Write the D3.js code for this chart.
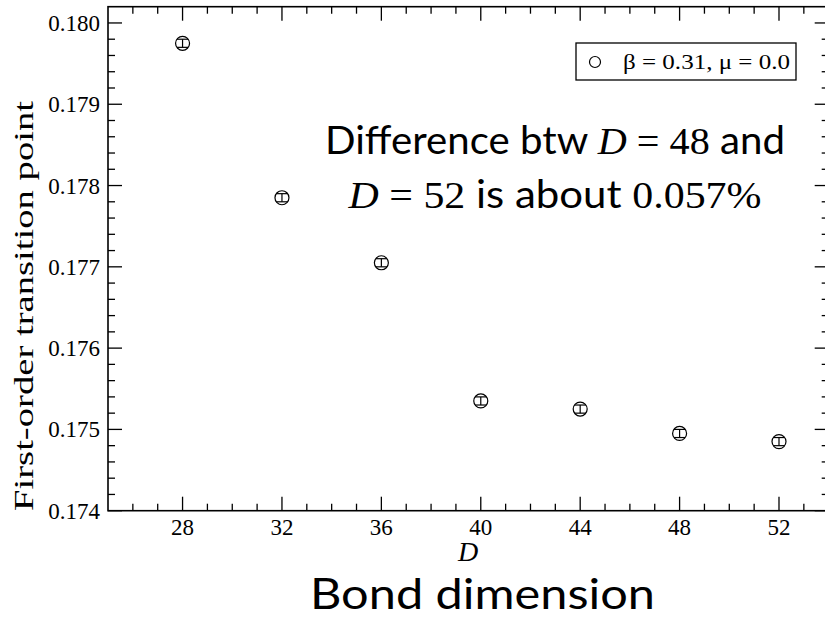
<!DOCTYPE html>
<html>
<head>
<meta charset="utf-8">
<script src="https://cdn.jsdelivr.net/npm/d3@7"></script>
<style>
  html, body { margin: 0; padding: 0; background: #fff; }
  svg { display: block; }
</style>
</head>
<body>
<svg id="chart" width="825" height="619"></svg>
<script>
// Bond dimension D and the first-order transition point found at each D
const bondDims = [28, 32, 36, 40, 44, 48, 52];
const transitionPoints = [0.17975, 0.17785, 0.17705, 0.17535, 0.17525, 0.17495, 0.17485];
const errors = [0.00005, 0.00005, 0.00005, 0.00005, 0.00005, 0.00005, 0.00005];

// Axis ticks and labels
const xMajorTicks = [28, 32, 36, 40, 44, 48, 52];
const yMajorTicks = [0.174, 0.175, 0.176, 0.177, 0.178, 0.179, 0.180];
const yTickLabels = ["0.174", "0.175", "0.176", "0.177", "0.178", "0.179", "0.180"];
const legendLabel = "β = 0.31, μ = 0.0";

const serif = "Liberation Serif, serif";
const sans = "Lato, Open Sans, sans-serif";

const svg = d3.select("#chart");

const x = d3.scaleLinear().domain([25, 54]).range([108, 828.7]);
const y = d3.scaleLinear().domain([0.174, 0.1802]).range([510.7, 6.7]);

const [x0, x1] = x.range();
const [y0, y1] = y.range();

// Minor tick positions
const xMinor = d3.range(26, 54.001, 1).filter(v => !xMajorTicks.includes(v));
const yMinor = d3.range(0, 32).map(i => +(0.174 + i * 0.0002).toFixed(4))
  .filter(v => v < 0.1802 && !yMajorTicks.some(t => Math.abs(t - v) < 1e-7));

const g = svg.append("g");

// Inward ticks on all four sides
function xTicks(vals, len) {
  vals.forEach(v => {
    g.append("line").attr("x1", x(v)).attr("x2", x(v)).attr("y1", y0).attr("y2", y0 - len)
      .attr("stroke", "#000").attr("stroke-width", 1.3);
    g.append("line").attr("x1", x(v)).attr("x2", x(v)).attr("y1", y1).attr("y2", y1 + len)
      .attr("stroke", "#000").attr("stroke-width", 1.3);
  });
}
function yTicks(vals, len) {
  vals.forEach(v => {
    g.append("line").attr("x1", x0).attr("x2", x0 + len).attr("y1", y(v)).attr("y2", y(v))
      .attr("stroke", "#000").attr("stroke-width", 1.3);
    g.append("line").attr("x1", x1).attr("x2", x1 - len).attr("y1", y(v)).attr("y2", y(v))
      .attr("stroke", "#000").attr("stroke-width", 1.3);
  });
}
xTicks(xMajorTicks, 14);
xTicks(xMinor, 7);
yTicks(yMajorTicks, 14);
yTicks(yMinor, 7);

// Frame
g.append("rect").attr("x", x0).attr("y", y1).attr("width", x1 - x0).attr("height", y0 - y1)
  .attr("fill", "none").attr("stroke", "#000").attr("stroke-width", 1.6);

// Tick labels
g.selectAll(".xtl").data(xMajorTicks).join("text")
  .attr("x", d => x(d)).attr("y", 535)
  .attr("text-anchor", "middle")
  .attr("font-family", serif).attr("font-size", 23)
  .text(d => d);

g.selectAll(".ytl").data(yMajorTicks).join("text")
  .attr("x", 100).attr("y", d => y(d) + 8)
  .attr("text-anchor", "end")
  .attr("font-family", serif).attr("font-size", 23)
  .text((d, i) => yTickLabels[i]);

// Axis titles
svg.append("text")
  .attr("x", 468).attr("y", 561)
  .attr("text-anchor", "middle")
  .attr("font-family", serif).attr("font-style", "italic").attr("font-size", 28)
  .text("D");

svg.append("text")
  .attr("transform", "translate(33,306) rotate(-90)")
  .attr("text-anchor", "middle")
  .attr("font-family", serif).attr("font-size", 28)
  .attr("textLength", 410).attr("lengthAdjust", "spacingAndGlyphs")
  .text("First-order transition point");

svg.append("text")
  .attr("x", 310).attr("y", 609)
  .attr("font-family", sans).attr("font-size", 43)
  .attr("textLength", 345).attr("lengthAdjust", "spacingAndGlyphs")
  .text("Bond dimension");

// Error bars
const capHalf = 5.5;
const eb = svg.append("g").attr("stroke", "#000").attr("stroke-width", 1.2);
bondDims.forEach((d, i) => {
  const cx = x(d), yt = y(transitionPoints[i] + errors[i]), yb = y(transitionPoints[i] - errors[i]);
  eb.append("line").attr("x1", cx).attr("x2", cx).attr("y1", yt).attr("y2", yb);
  eb.append("line").attr("x1", cx - capHalf).attr("x2", cx + capHalf).attr("y1", yt).attr("y2", yt);
  eb.append("line").attr("x1", cx - capHalf).attr("x2", cx + capHalf).attr("y1", yb).attr("y2", yb);
});

// Data points
svg.append("g").selectAll("circle").data(bondDims).join("circle")
  .attr("cx", d => x(d))
  .attr("cy", (d, i) => y(transitionPoints[i]))
  .attr("r", 7)
  .attr("fill", "none").attr("stroke", "#000").attr("stroke-width", 1.2);

// Legend
const lg = svg.append("g");
lg.append("rect").attr("x", 576).attr("y", 43).attr("width", 220).attr("height", 37)
  .attr("fill", "#fff").attr("stroke", "#000").attr("stroke-width", 1.3);
lg.append("circle").attr("cx", 595).attr("cy", 62).attr("r", 5.5)
  .attr("fill", "none").attr("stroke", "#000").attr("stroke-width", 1.2);
lg.append("text").attr("x", 623).attr("y", 69)
  .attr("font-family", serif).attr("font-size", 21)
  .attr("textLength", 167).attr("lengthAdjust", "spacingAndGlyphs")
  .text(legendLabel);

// Annotation on the relative gap between the two largest bond dimensions
const last = transitionPoints.length - 1;
const gapPct = ((transitionPoints[last - 1] - transitionPoints[last]) / transitionPoints[last - 1] * 100).toFixed(3);

function mathLine(yPos, width, parts) {
  const t = svg.append("text").attr("x", 555).attr("y", yPos)
    .attr("text-anchor", "middle").attr("font-size", 38)
    .attr("textLength", width).attr("lengthAdjust", "spacingAndGlyphs");
  parts.forEach(p => {
    t.append("tspan")
      .attr("font-family", p.math ? serif : sans)
      .attr("font-style", p.italic ? "italic" : "normal")
      .text(p.s);
  });
}
mathLine(154, 460, [
  { s: "Difference btw " },
  { s: "D", math: true, italic: true },
  { s: " = " + bondDims[last - 1], math: true },
  { s: " and" }
]);
mathLine(208, 413, [
  { s: "D", math: true, italic: true },
  { s: " = " + bondDims[last], math: true },
  { s: " is about " },
  { s: gapPct + "%", math: true }
]);
</script>
</body>
</html>
